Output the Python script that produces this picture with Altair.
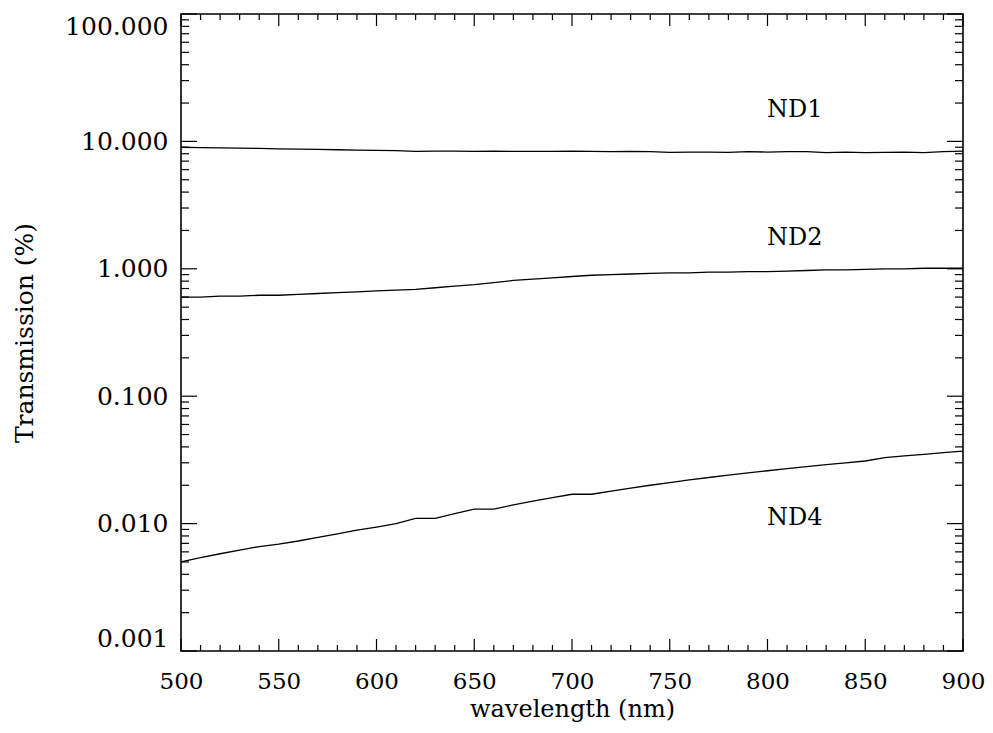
import altair as alt
import pandas as pd

# ---- data ----
wavelength = list(range(500, 901, 10))
nd1 = [9.0, 8.95, 8.9, 8.85, 8.8, 8.75, 8.7, 8.65, 8.6, 8.55, 8.5, 8.45, 8.35, 8.4, 8.4,
       8.35, 8.4, 8.35, 8.35, 8.35, 8.4, 8.35, 8.3, 8.35, 8.3, 8.2, 8.25, 8.25, 8.2, 8.3,
       8.25, 8.3, 8.3, 8.15, 8.25, 8.15, 8.2, 8.25, 8.15, 8.3, 8.4]
nd2 = [0.60, 0.60, 0.61, 0.61, 0.62, 0.62, 0.63, 0.64, 0.65, 0.66, 0.67, 0.68, 0.69, 0.71,
       0.73, 0.75, 0.78, 0.81, 0.83, 0.85, 0.87, 0.89, 0.90, 0.91, 0.92, 0.93, 0.93, 0.94,
       0.94, 0.95, 0.95, 0.96, 0.97, 0.98, 0.98, 0.99, 1.00, 1.00, 1.01, 1.01, 1.01]
nd4 = [0.0050, 0.0054, 0.0058, 0.0062, 0.0066, 0.0069, 0.0073, 0.0078, 0.0083, 0.0089,
       0.0094, 0.0100, 0.011, 0.011, 0.012, 0.013, 0.013, 0.014, 0.015, 0.016, 0.017,
       0.017, 0.018, 0.019, 0.020, 0.021, 0.022, 0.023, 0.024, 0.025, 0.026, 0.027,
       0.028, 0.029, 0.030, 0.031, 0.033, 0.034, 0.035, 0.036, 0.037]
series_names = ["ND1", "ND2", "ND4"]
label_x = [814, 814, 814]
label_y = [17.5, 1.73, 0.011]

x_major = list(range(500, 901, 50))
x_minor = [v for v in range(500, 901, 10) if v % 50]
y_major = [0.001, 0.01, 0.1, 1.0, 10.0, 100.0]
y_minor = [m * 10.0 ** e for e in range(-3, 2) for m in range(2, 10)]

W, H = 782, 637
FONT = "DejaVu Serif"

rows = []
for name, vals in zip(series_names, [nd1, nd2, nd4]):
    for w, v in zip(wavelength, vals):
        rows.append({"wavelength": w, "transmission": v, "series": name})
lines_df = pd.DataFrame(rows)
labels_df = pd.DataFrame({"wavelength": label_x, "transmission": label_y, "text": series_names})

xscale = alt.Scale(domain=[500, 900], nice=False, zero=False)
yscale = alt.Scale(type="log", domain=[0.001, 100], nice=False)

lines = alt.Chart(lines_df).mark_line(color="black", strokeWidth=1.3).encode(
    x=alt.X("wavelength:Q", scale=xscale,
            axis=alt.Axis(values=x_major, format="d", ticks=False, domain=False, grid=False,
                          labelFlush=False, labelOverlap=False, labelFontSize=23,
                          titleFontSize=24,
                          title="wavelength (nm)", labelPadding=19, titlePadding=4)),
    y=alt.Y("transmission:Q", scale=yscale,
            axis=alt.Axis(values=y_major, format=".3f", ticks=False, domain=False, grid=False,
                          labelFlush=True, labelOverlap=False, labelFontSize=25,
                          titleFontSize=25,
                          title="Transmission (%)", labelPadding=13, titlePadding=27)),
    detail="series:N",
)

texts = alt.Chart(labels_df).mark_text(font=FONT, fontSize=24, color="black").encode(
    x=alt.X("wavelength:Q", scale=xscale),
    y=alt.Y("transmission:Q", scale=yscale),
    text="text:N",
)

def xticks(vals, length, top):
    df = pd.DataFrame({"wavelength": vals})
    if top:
        yv, y2v = alt.value(0), alt.value(length)
    else:
        yv, y2v = alt.value(H), alt.value(H - length)
    return alt.Chart(df).mark_rule(color="black", strokeWidth=1.2).encode(
        x=alt.X("wavelength:Q", scale=xscale), y=yv, y2=y2v)

def yticks(vals, length, right):
    df = pd.DataFrame({"transmission": vals})
    if right:
        xv, x2v = alt.value(W), alt.value(W - length)
    else:
        xv, x2v = alt.value(0), alt.value(length)
    return alt.Chart(df).mark_rule(color="black", strokeWidth=1.2).encode(
        y=alt.Y("transmission:Q", scale=yscale), x=xv, x2=x2v)

layers = [
    lines, texts,
    xticks(x_major, 12, False), xticks(x_minor, 6, False),
    xticks(x_major, 12, True), xticks(x_minor, 6, True),
    yticks(y_major, 16, False), yticks(y_minor, 8, False),
    yticks(y_major, 16, True), yticks(y_minor, 8, True),
]

chart = alt.layer(*layers).properties(
    width=W, height=H,
    background="white",
    autosize=alt.AutoSizeParams(type="none"),
    padding={"left": 173, "top": 6, "right": 22, "bottom": 74},
).configure_view(
    stroke="black", strokeWidth=1.6
).configure_axis(
    labelFont=FONT, labelColor="black",
    titleFont=FONT, titleColor="black", titleFontWeight="normal",
)

chart.save("out.html", embed_options={"renderer": "svg", "actions": False})
